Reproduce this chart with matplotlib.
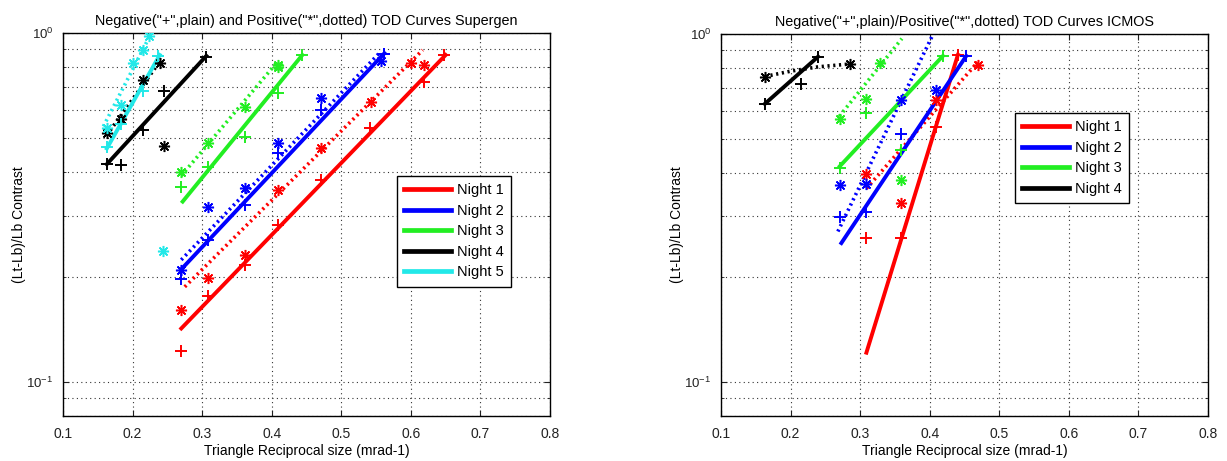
import matplotlib
matplotlib.use("Agg")
import matplotlib.pyplot as plt
from matplotlib.ticker import LogLocator, NullFormatter, FixedLocator
from matplotlib.lines import Line2D

plt.rcParams['font.family'] = ['Liberation Sans', 'DejaVu Sans']

# ---------------- Supergen data ----------------
sg_n1_neg_x = [0.27, 0.309, 0.361, 0.409, 0.471, 0.541, 0.619, 0.648]
sg_n1_neg_y = [0.123, 0.176, 0.216, 0.282, 0.379, 0.533, 0.725, 0.865]
sg_n1_pos_x = [0.27, 0.309, 0.361, 0.409, 0.471, 0.543, 0.600, 0.619]
sg_n1_pos_y = [0.161, 0.199, 0.231, 0.354, 0.467, 0.636, 0.819, 0.81]
sg_n1_negfit_x = [0.27, 0.65]
sg_n1_negfit_y = [0.1425, 0.865]
sg_n1_posfit_x = [0.275, 0.617]
sg_n1_posfit_y = [0.1875, 0.894]

sg_n2_neg_x = [0.27, 0.309, 0.361, 0.409, 0.471, 0.562]
sg_n2_neg_y = [0.197, 0.256, 0.321, 0.452, 0.60, 0.87]
sg_n2_pos_x = [0.27, 0.309, 0.361, 0.409, 0.471, 0.557]
sg_n2_pos_y = [0.21, 0.318, 0.359, 0.485, 0.65, 0.83]
sg_n2_negfit_x = [0.27, 0.562]
sg_n2_negfit_y = [0.2105, 0.875]
sg_n2_posfit_x = [0.27, 0.555]
sg_n2_posfit_y = [0.224, 0.877]

sg_n3_neg_x = [0.27, 0.309, 0.361, 0.409, 0.444]
sg_n3_neg_y = [0.363, 0.414, 0.505, 0.672, 0.865]
sg_n3_pos_x = [0.27, 0.309, 0.361, 0.409, 0.409]
sg_n3_pos_y = [0.401, 0.483, 0.615, 0.81, 0.80]
sg_n3_negfit_x = [0.272, 0.444]
sg_n3_negfit_y = [0.329, 0.865]
sg_n3_posfit_x = [0.27, 0.409]
sg_n3_posfit_y = [0.39, 0.83]

sg_n4_neg_x = [0.163, 0.184, 0.215, 0.245, 0.306]
sg_n4_neg_y = [0.421, 0.419, 0.527, 0.684, 0.855]
sg_n4_pos_x = [0.163, 0.184, 0.215, 0.239, 0.245]
sg_n4_pos_y = [0.516, 0.569, 0.733, 0.819, 0.474]
sg_n4_negfit_x = [0.163, 0.306]
sg_n4_negfit_y = [0.421, 0.86]
sg_n4_posfit_x = [0.163, 0.239]
sg_n4_posfit_y = [0.51, 0.828]

sg_n5_neg_x = [0.163, 0.184, 0.215, 0.237]
sg_n5_neg_y = [0.47, 0.55, 0.68, 0.86]
sg_n5_pos_x = [0.163, 0.184, 0.2, 0.215, 0.224, 0.244]
sg_n5_pos_y = [0.533, 0.622, 0.819, 0.894, 0.98, 0.237]
sg_n5_negfit_x = [0.163, 0.239]
sg_n5_negfit_y = [0.467, 0.865]
sg_n5_posfit_x = [0.158, 0.227]
sg_n5_posfit_y = [0.54, 1.0]

# ---------------- ICMOS data ----------------
ic_n1_neg_x = [0.309, 0.359, 0.4095, 0.4405]
ic_n1_neg_y = [0.26, 0.26, 0.54, 0.871]
ic_n1_pos_x = [0.309, 0.359, 0.4095, 0.469]
ic_n1_pos_y = [0.397, 0.327, 0.647, 0.815]
ic_n1_negfit_x = [0.309, 0.4405]
ic_n1_negfit_y = [0.1216, 0.871]
ic_n1_posfit_x = [0.309, 0.469]
ic_n1_posfit_y = [0.36, 0.83]

ic_n2_neg_x = [0.2707, 0.309, 0.359, 0.4525]
ic_n2_neg_y = [0.298, 0.308, 0.517, 0.865]
ic_n2_pos_x = [0.2707, 0.309, 0.359, 0.4085]
ic_n2_pos_y = [0.369, 0.37, 0.647, 0.691]
ic_n2_negfit_x = [0.273, 0.4525]
ic_n2_negfit_y = [0.251, 0.865]
ic_n2_posfit_x = [0.268, 0.405]
ic_n2_posfit_y = [0.271, 1.0]

ic_n3_neg_x = [0.2707, 0.309, 0.359, 0.419]
ic_n3_neg_y = [0.412, 0.595, 0.465, 0.865]
ic_n3_pos_x = [0.2707, 0.309, 0.328, 0.359]
ic_n3_pos_y = [0.57, 0.651, 0.824, 0.382]
ic_n3_negfit_x = [0.2707, 0.419]
ic_n3_negfit_y = [0.417, 0.865]
ic_n3_posfit_x = [0.27, 0.36]
ic_n3_posfit_y = [0.58, 0.97]

ic_n4_neg_x = [0.163, 0.2157, 0.2396]
ic_n4_neg_y = [0.630, 0.719, 0.861]
ic_n4_pos_x = [0.163, 0.285]
ic_n4_pos_y = [0.755, 0.82]
ic_n4_negfit_x = [0.163, 0.2396]
ic_n4_negfit_y = [0.63, 0.861]
ic_n4_posfit_x = [0.163, 0.2, 0.24, 0.285]
ic_n4_posfit_y = [0.755, 0.782, 0.805, 0.82]

night_labels = ["Night 1", "Night 2", "Night 3", "Night 4", "Night 5"]
colors = ['#ff0000', '#0000ff', '#22ee22', '#000000', '#22e8e8']

supergen = [
    (sg_n1_neg_x, sg_n1_neg_y, sg_n1_pos_x, sg_n1_pos_y, sg_n1_negfit_x, sg_n1_negfit_y, sg_n1_posfit_x, sg_n1_posfit_y),
    (sg_n2_neg_x, sg_n2_neg_y, sg_n2_pos_x, sg_n2_pos_y, sg_n2_negfit_x, sg_n2_negfit_y, sg_n2_posfit_x, sg_n2_posfit_y),
    (sg_n3_neg_x, sg_n3_neg_y, sg_n3_pos_x, sg_n3_pos_y, sg_n3_negfit_x, sg_n3_negfit_y, sg_n3_posfit_x, sg_n3_posfit_y),
    (sg_n4_neg_x, sg_n4_neg_y, sg_n4_pos_x, sg_n4_pos_y, sg_n4_negfit_x, sg_n4_negfit_y, sg_n4_posfit_x, sg_n4_posfit_y),
    (sg_n5_neg_x, sg_n5_neg_y, sg_n5_pos_x, sg_n5_pos_y, sg_n5_negfit_x, sg_n5_negfit_y, sg_n5_posfit_x, sg_n5_posfit_y),
]
icmos = [
    (ic_n1_neg_x, ic_n1_neg_y, ic_n1_pos_x, ic_n1_pos_y, ic_n1_negfit_x, ic_n1_negfit_y, ic_n1_posfit_x, ic_n1_posfit_y),
    (ic_n2_neg_x, ic_n2_neg_y, ic_n2_pos_x, ic_n2_pos_y, ic_n2_negfit_x, ic_n2_negfit_y, ic_n2_posfit_x, ic_n2_posfit_y),
    (ic_n3_neg_x, ic_n3_neg_y, ic_n3_pos_x, ic_n3_pos_y, ic_n3_negfit_x, ic_n3_negfit_y, ic_n3_posfit_x, ic_n3_posfit_y),
    (ic_n4_neg_x, ic_n4_neg_y, ic_n4_pos_x, ic_n4_pos_y, ic_n4_negfit_x, ic_n4_negfit_y, ic_n4_posfit_x, ic_n4_posfit_y),
]

W, H = 1227, 461
fig = plt.figure(figsize=(W / 100, H / 100), dpi=100)

ax1 = fig.add_axes([63 / W, 1 - 416 / H, 487 / W, 383 / H])
ax2 = fig.add_axes([721 / W, 1 - 416 / H, 487 / W, 382 / H])

def draw(ax, data, title, legend_xy):
    handles = []
    for i, (nx, ny, px, py, nfx, nfy, pfx, pfy) in enumerate(data):
        c = colors[i]
        ax.plot(pfx, pfy, linestyle=(0, (0.6, 1.0)), color=c, lw=2.6, zorder=3)
        ax.plot(nfx, nfy, linestyle='-', color=c, lw=2.8, zorder=4)
        ax.plot(nx, ny, linestyle='none', marker='+', color=c, ms=8, mew=1.4, zorder=5)
        ax.plot(px, py, linestyle='none', marker=(8, 2, 0), color=c, ms=8, mew=1.1, zorder=5)
        handles.append(Line2D([], [], color=c, lw=3.4, label=night_labels[i]))
    ax.set_yscale('log')
    ax.set_xlim(0.1, 0.8)
    ax.set_ylim(0.08, 1.0)
    ax.xaxis.set_major_locator(FixedLocator([0.1, 0.2, 0.3, 0.4, 0.5, 0.6, 0.7, 0.8]))
    ax.set_xticklabels(['0.1', '0.2', '0.3', '0.4', '0.5', '0.6', '0.7', '0.8'])
    ax.yaxis.set_major_locator(LogLocator(base=10, numticks=10))
    ax.yaxis.set_minor_locator(LogLocator(base=10, subs=range(2, 10), numticks=10))
    ax.yaxis.set_minor_formatter(NullFormatter())
    ax.grid(True, which='major', linestyle=(0, (1, 3)), color='#333333', lw=0.8)
    ax.grid(True, which='minor', axis='y', linestyle=(0, (1, 3)), color='#333333', lw=0.8)
    ax.tick_params(which='both', direction='in', top=True, right=True, colors='#222222')
    ax.tick_params(axis='x', which='major', pad=8, labelsize=10)
    ax.tick_params(axis='y', which='major', pad=7, labelsize=9.5)
    ax.tick_params(which='major', length=4)
    ax.tick_params(which='minor', length=2)
    for s in ax.spines.values():
        s.set_linewidth(1.0)
    ax.set_title(title, fontsize=10.4, pad=6)
    ax.set_xlabel('Triangle Reciprocal size (mrad-1)', fontsize=10, labelpad=2)
    ax.set_ylabel('(Lt-Lb)/Lb Contrast', fontsize=10, labelpad=0)
    leg = ax.legend(handles=handles, loc='upper left', bbox_to_anchor=legend_xy,
                    fontsize=10.5, handlelength=3.2, handletextpad=0.4,
                    labelspacing=0.45, borderpad=0.5, fancybox=False,
                    framealpha=1, edgecolor='black', borderaxespad=0)
    leg.get_frame().set_linewidth(1.0)

draw(ax1, supergen, 'Negative("+",plain) and Positive("*",dotted) TOD Curves Supergen', (0.686, 0.627))
draw(ax2, icmos, 'Negative("+",plain)/Positive("*",dotted) TOD Curves ICMOS', (0.604, 0.793))

fig.savefig('out.png', dpi=100)
